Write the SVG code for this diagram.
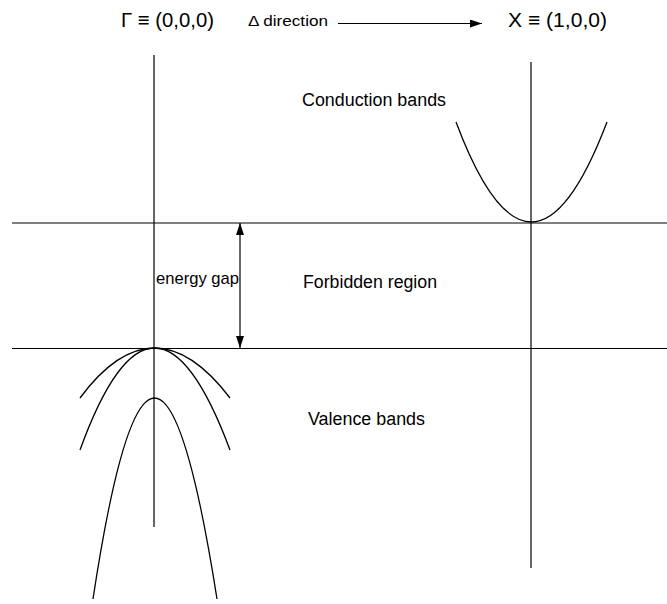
<svg xmlns="http://www.w3.org/2000/svg" width="667" height="604" viewBox="0 0 667 604">
<style>
  .ln{stroke:#000;stroke-width:1.2;fill:none}
  .cv{stroke:#000;stroke-width:1.3;fill:none}
  .t{font-family:"Liberation Sans",Arial,sans-serif;fill:#000}
</style>
<defs>
  <marker id="ah" viewBox="0 0 12 8" refX="12" refY="4" markerWidth="12" markerHeight="8" markerUnits="userSpaceOnUse" orient="auto-start-reverse">
    <path d="M0,0 L12,4 L0,8 Z" fill="#000"/>
  </marker>
</defs>
<rect width="667" height="604" fill="#fff"/>
<g id="axes">
  <line class="ln" x1="154" y1="55" x2="154" y2="527"/>
  <line class="ln" x1="531" y1="62" x2="531" y2="568"/>
  <line class="ln" x1="12" y1="223" x2="667" y2="223"/>
  <line class="ln" x1="12" y1="348.5" x2="667" y2="348.5"/>
</g>
<g id="conduction-band">
  <path class="cv" d="M456,122 Q531,322 607,122"/>
</g>
<g id="valence-bands">
  <path class="cv" d="M80,398 Q154,298 230,398"/>
  <path class="cv" d="M80,450 Q154,246 230,450"/>
  <path class="cv" d="M93,599 Q154,197 217,599"/>
</g>
<g id="connectors">
  <line class="ln" x1="338" y1="23.5" x2="482" y2="23.5" marker-end="url(#ah)"/>
  <line class="ln" x1="240" y1="223" x2="240" y2="348" marker-start="url(#ah)" marker-end="url(#ah)"/>
</g>
<g id="labels">
  <text class="t" x="121" y="27" font-size="20.5" textLength="93" lengthAdjust="spacingAndGlyphs">Γ ≡ (0,0,0)</text>
  <text class="t" x="248" y="26" font-size="15.5" textLength="80" lengthAdjust="spacingAndGlyphs">Δ direction</text>
  <text class="t" x="508" y="27" font-size="20.5" textLength="99" lengthAdjust="spacingAndGlyphs">X ≡ (1,0,0)</text>
  <text class="t" x="302" y="106" font-size="18" textLength="144" lengthAdjust="spacingAndGlyphs">Conduction bands</text>
  <text class="t" x="303" y="288" font-size="18" textLength="134" lengthAdjust="spacingAndGlyphs">Forbidden region</text>
  <text class="t" x="308" y="425" font-size="18" textLength="117" lengthAdjust="spacingAndGlyphs">Valence bands</text>
  <text class="t" x="156" y="284" font-size="17" textLength="83" lengthAdjust="spacingAndGlyphs">energy gap</text>
</g>
</svg>
